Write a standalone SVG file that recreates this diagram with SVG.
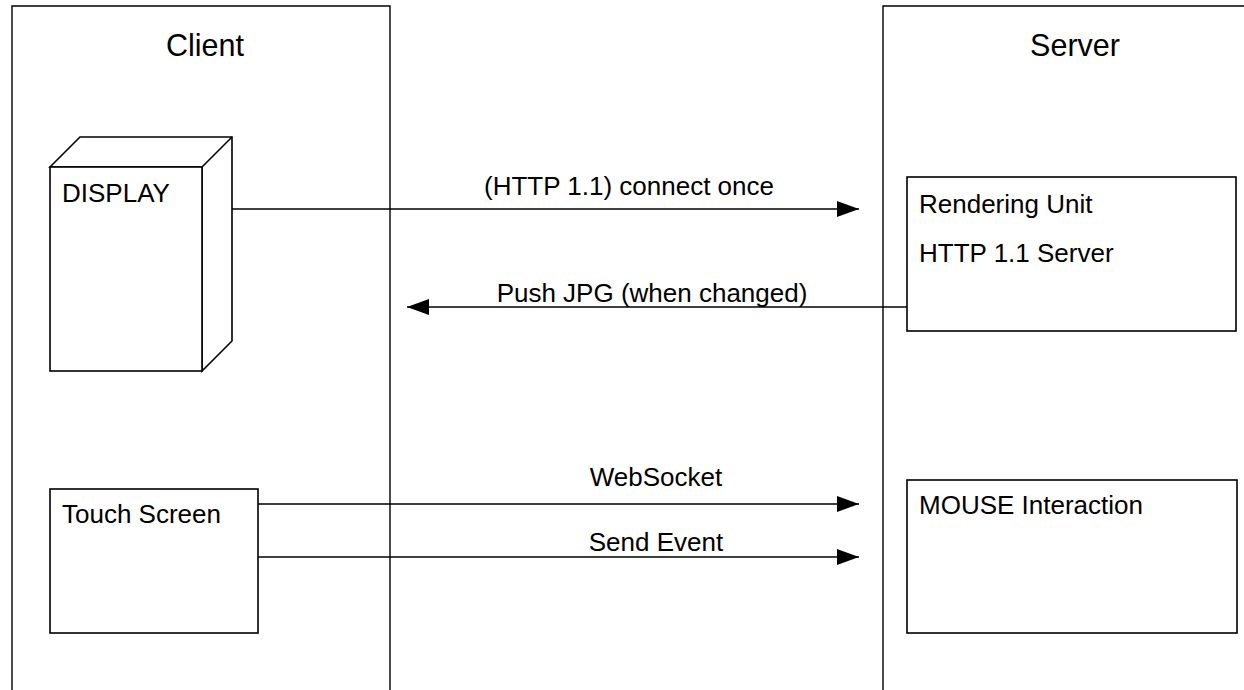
<svg xmlns="http://www.w3.org/2000/svg" width="1244" height="690" viewBox="0 0 1244 690">
  <style>
    .shape { fill: #ffffff; stroke: #000000; stroke-width: 1.6; }
    .lane { fill: none; stroke: #000000; stroke-width: 1.4; }
    .wire { fill: none; stroke: #000000; stroke-width: 1.6; }
    text { font-family: "Liberation Sans", Arial, sans-serif; fill: #000000; }
    .title { font-size: 30.5px; text-anchor: middle; }
    .label { font-size: 26px; }
    .edge-label { font-size: 26px; text-anchor: middle; }
  </style>
  <defs>
    <marker id="arrow" viewBox="0 0 22 16" refX="22" refY="8" markerWidth="22" markerHeight="16" markerUnits="userSpaceOnUse" orient="auto">
      <path d="M0,0 L22,8 L0,16 Z" fill="#000000"/>
    </marker>
  </defs>

  <rect width="1244" height="690" fill="#ffffff"/>

  <!-- swimlanes -->
  <g id="lane-client">
    <path class="lane" d="M12,700 L12,6 L390,6 L390,700"/>
    <text class="title" x="205" y="56">Client</text>
  </g>
  <g id="lane-server">
    <path class="lane" d="M883,700 L883,6 L1260,6"/>
    <text class="title" x="1075" y="56">Server</text>
  </g>

  <!-- display: 3D box -->
  <g id="display">
    <path class="shape" d="M50,167 L80,137 L232,137 L232,341 L202,371 L202,167 Z"/>
    <path class="shape" d="M202,167 L232,137"/>
    <rect class="shape" x="50" y="167" width="152" height="204"/>
    <text class="label" x="62" y="202">DISPLAY</text>
  </g>

  <g id="touch-screen">
    <rect class="shape" x="50" y="489" width="208" height="144"/>
    <text class="label" x="62" y="523">Touch Screen</text>
  </g>

  <g id="rendering-unit">
    <rect class="shape" x="907" y="177" width="329" height="154"/>
    <text class="label" x="919" y="213">Rendering Unit</text>
    <text class="label" x="919" y="262">HTTP 1.1 Server</text>
  </g>

  <g id="mouse-interaction">
    <rect class="shape" x="907" y="480" width="330" height="153"/>
    <text class="label" x="919" y="514">MOUSE Interaction</text>
  </g>

  <!-- connectors -->
  <g id="connectors">
    <path class="wire" d="M232,209 L859,209" marker-end="url(#arrow)"/>
    <text class="edge-label" x="629" y="195">(HTTP 1.1) connect once</text>

    <path class="wire" d="M907,307 L407,307" marker-end="url(#arrow)"/>
    <text class="edge-label" x="652" y="302">Push JPG (when changed)</text>

    <path class="wire" d="M258,504 L859,504" marker-end="url(#arrow)"/>
    <text class="edge-label" x="656" y="486">WebSocket</text>

    <path class="wire" d="M258,557 L859,557" marker-end="url(#arrow)"/>
    <text class="edge-label" x="656" y="551">Send Event</text>
  </g>
</svg>
